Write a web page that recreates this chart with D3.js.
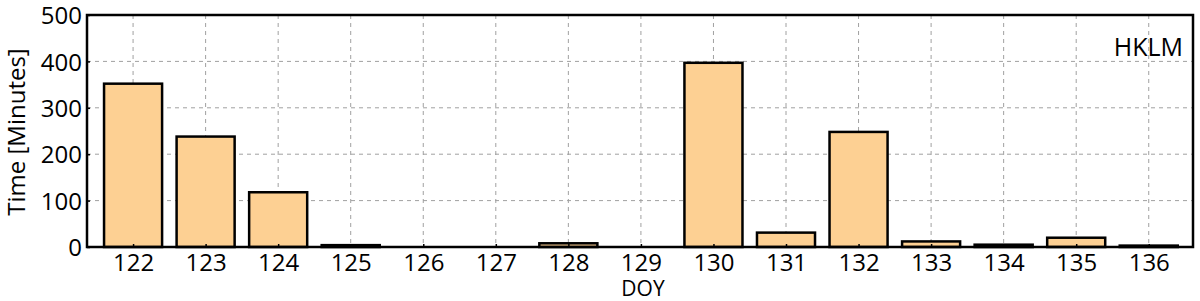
<!DOCTYPE html>
<html><head><meta charset="utf-8">
<script src="https://cdn.jsdelivr.net/npm/d3@7"></script>
<style>body{margin:0;background:#fff}svg{display:block}text{font-family:"Open Sans",Lato,sans-serif;fill:#000}</style>
</head><body><svg id="c" width="1200" height="301"></svg>
<script>
const days = [122,123,124,125,126,127,128,129,130,131,132,133,134,135,136];
const minutes = [352,238,118,4,0,0,8,0,397,31,248,12,5,20,3];
const yTicks = [0,100,200,300,400,500];
const station = "HKLM";

const svg = d3.select("#c");
const L=87, R=1193, T=15, B=247;
const x = d3.scaleLinear().domain([121.365,136.61]).range([L,R]);
const y = d3.scaleLinear().domain([0,500]).range([B,T]);
const bw = x(122.4)-x(121.6);

// grid
const g = svg.append("g");
g.selectAll(".gx").data(days).join("line")
  .attr("x1",d=>x(d)).attr("x2",d=>x(d)).attr("y1",T).attr("y2",B)
  .attr("stroke","#a0a0a0").attr("stroke-width",1).attr("stroke-dasharray","4,4");
g.selectAll(".gy").data(yTicks.filter(v=>v>0&&v<500)).join("line")
  .attr("x1",L).attr("x2",R).attr("y1",d=>y(d)).attr("y2",d=>y(d))
  .attr("stroke","#a0a0a0").attr("stroke-width",1).attr("stroke-dasharray","4,4");

// bars
svg.append("g").selectAll("rect").data(days).join("rect")
  .attr("x",d=>x(d)-bw/2).attr("width",bw)
  .attr("y",(d,i)=>y(minutes[i])).attr("height",(d,i)=>B-y(minutes[i]))
  .attr("fill","#fdd093").attr("stroke","#000").attr("stroke-width",2.5);

// axes
const xa = svg.append("g").attr("transform",`translate(0,${B})`)
  .call(d3.axisBottom(x).tickValues(days).tickFormat(d3.format("d")).tickSizeInner(-3).tickSizeOuter(0).tickPadding(7));
const ya = svg.append("g").attr("transform",`translate(${L},0)`)
  .call(d3.axisLeft(y).tickValues(yTicks).tickSizeInner(-3).tickSizeOuter(0).tickPadding(5));
[xa,ya].forEach(a=>{
  a.select(".domain").remove();
  a.selectAll(".tick line").attr("stroke","#000").attr("stroke-width",1.5);
  a.selectAll("text").attr("font-size",24).attr("font-family",'"Open Sans",sans-serif').attr("fill","#000");
});
ya.selectAll("text").attr("dy","0.36em");
xa.selectAll("text").attr("dy","0.72em");

// frame
svg.append("rect").attr("x",L).attr("y",T).attr("width",R-L).attr("height",B-T)
  .attr("fill","none").attr("stroke","#000").attr("stroke-width",2.5);

// labels
svg.append("text").attr("x",643).attr("y",296).attr("text-anchor","middle")
  .attr("font-size",21).text("DOY");
svg.append("text").attr("transform",`translate(25,132) rotate(-90)`)
  .attr("text-anchor","middle").attr("font-size",24).text("Time [Minutes]");
svg.append("text").attr("x",1183).attr("y",56).attr("text-anchor","end")
  .attr("font-size",25).text(station);
</script></body></html>
